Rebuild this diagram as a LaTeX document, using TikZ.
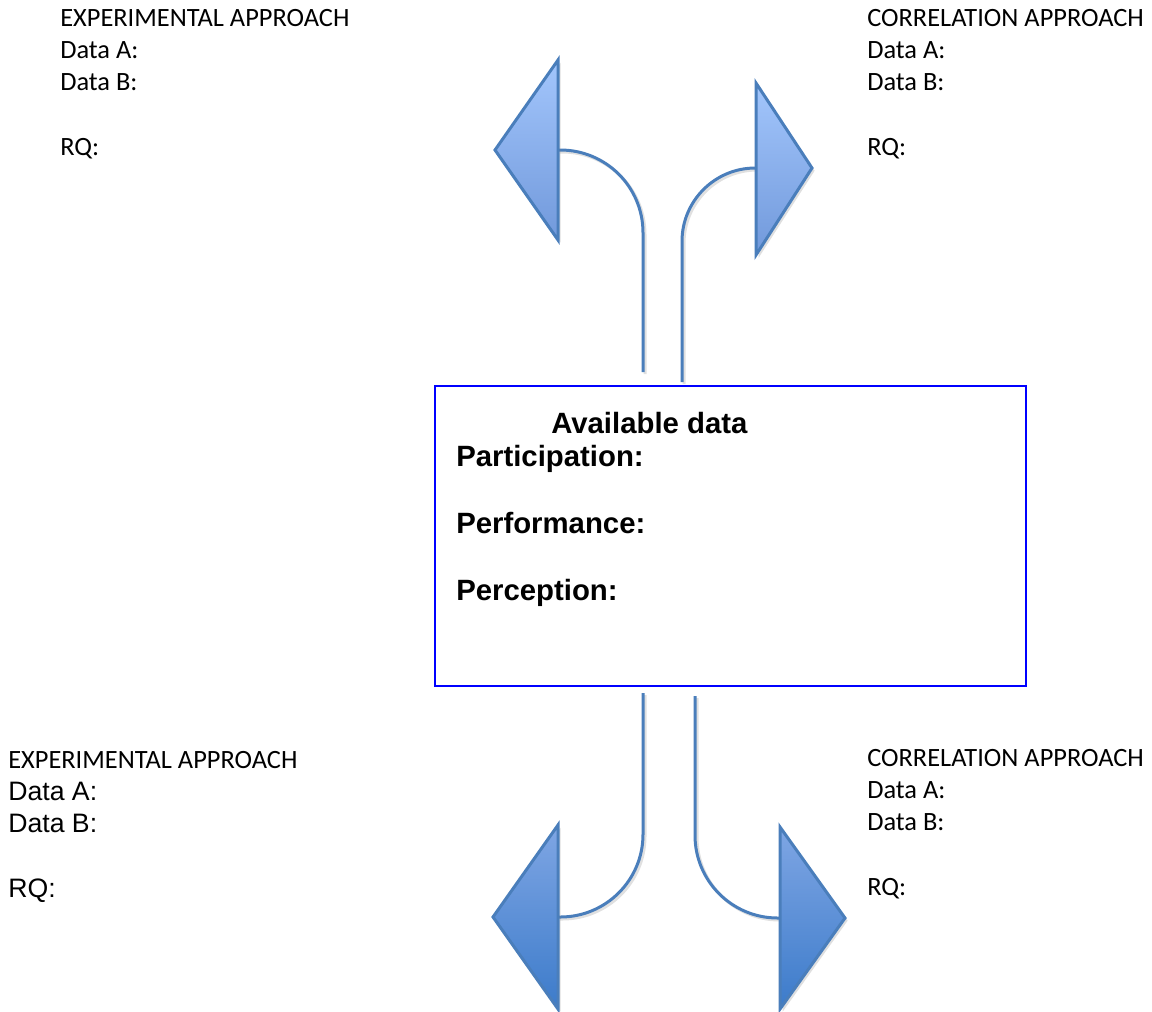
\documentclass[tikz,border=0pt]{standalone}
\usepackage{fontspec}
\usepackage{tikz}
\usetikzlibrary{positioning,calc,shadows}
\newfontfamily\labelfont{Carlito}
\newfontfamily\arialfont{Liberation Sans}
\definecolor{ArrowLine}{HTML}{4A7EBB}
\definecolor{TopLight}{HTML}{A3C6FC}
\definecolor{TopDark}{HTML}{7199DB}
\definecolor{LowLight}{HTML}{7FA6E4}
\definecolor{LowDark}{HTML}{3C7BCA}
\definecolor{BoxBlue}{HTML}{0000FF}
\tikzset{
  lbl/.style={anchor=north west,inner sep=0pt,align=left,
              font=\labelfont\fontsize{19.8}{24.2}\selectfont},
  conn/.style={draw=ArrowLine,line width=2.25pt,
               preaction={draw=black,opacity=0.12,line width=2.25pt,
                          transform canvas={shift={(1.5pt,-1.5pt)}}}},
  headU/.style={draw=ArrowLine,line width=2.25pt,
                top color=TopLight,bottom color=TopDark,
                drop shadow={opacity=0.25,shadow xshift=2pt,shadow yshift=-2pt}},
  headD/.style={draw=ArrowLine,line width=2.25pt,
                top color=LowLight,bottom color=LowDark,
                drop shadow={opacity=0.25,shadow xshift=2pt,shadow yshift=-2pt}},
  databox/.style={draw=BoxBlue,line width=1.5pt,inner sep=0pt,
                  minimum width=443.25pt,minimum height=225pt},
  dtxt/.style={anchor=base west,inner sep=0pt,
               font=\arialfont\bfseries\fontsize{22}{26}\selectfont}
}

\begin{document}
\begin{tikzpicture}[x=0.75pt,y=0.75pt]
  \useasboundingbox (0,0) rectangle (1152,-1011);

  % approach labels
  \node[lbl] (expTop) at (60,-9) {EXPERIMENTAL APPROACH\\Data A:\\Data B:\\[24.2pt]RQ:};
  \node[lbl] (corTop) at (867,-9) {CORRELATION APPROACH\\Data A:\\Data B:\\[24.2pt]RQ:};
  \node[lbl] (expLow) at (8,-751) {EXPERIMENTAL APPROACH\\
    {\arialfont\fontsize{20}{24.2}\selectfont Data A:}\\
    {\arialfont\fontsize{20}{24.2}\selectfont Data B:}\\[24.2pt]
    {\arialfont\fontsize{20}{24.2}\selectfont RQ:}};
  \node[lbl] (corLow) at (867,-749) {CORRELATION APPROACH\\Data A:\\Data B:\\[24.2pt]RQ:};

  % available data box
  \node[databox,anchor=north west] (avail) at (434,-385) {};
  \node[dtxt] (avTitle) at ($(avail.north west)+(117,-48)$) {Available data};
  \node[dtxt] (partic) at ($(avail.north west)+(22,-81)$) {Participation:};
  \node[dtxt] (perform) at ($(avail.north west)+(22,-148)$) {Performance:};
  \node[dtxt] (percep) at ($(avail.north west)+(22,-215)$) {Perception:};

  % arrow ends
  \coordinate (tlFoot) at (643,-372);
  \coordinate (tlBase) at (558,-150);
  \coordinate (trFoot) at (682,-382);
  \coordinate (trBase) at (756,-168);
  \coordinate (blFoot) at (643,-693);
  \coordinate (blBase) at (558,-917);
  \coordinate (brFoot) at (695,-696);
  \coordinate (brBase) at (780,-918);

  \draw[conn,rounded corners=62pt] (tlFoot) |- (tlBase);
  \draw[conn,rounded corners=55pt] (trFoot) |- (trBase);
  \draw[conn,rounded corners=62pt] (blFoot) |- (blBase);
  \draw[conn,rounded corners=62pt] (brFoot) |- (brBase);

  \path[headU] (558,-60) -- (495,-150) -- (558,-240) -- cycle;
  \path[headU] (756,-83) -- (812,-168) -- (756,-255) -- cycle;
  \path[headD] (558,-825) -- (493,-917) -- (558,-1009) -- cycle;
  \path[headD] (780,-827) -- (845,-918) -- (780,-1009) -- cycle;
\end{tikzpicture}
\end{document}
